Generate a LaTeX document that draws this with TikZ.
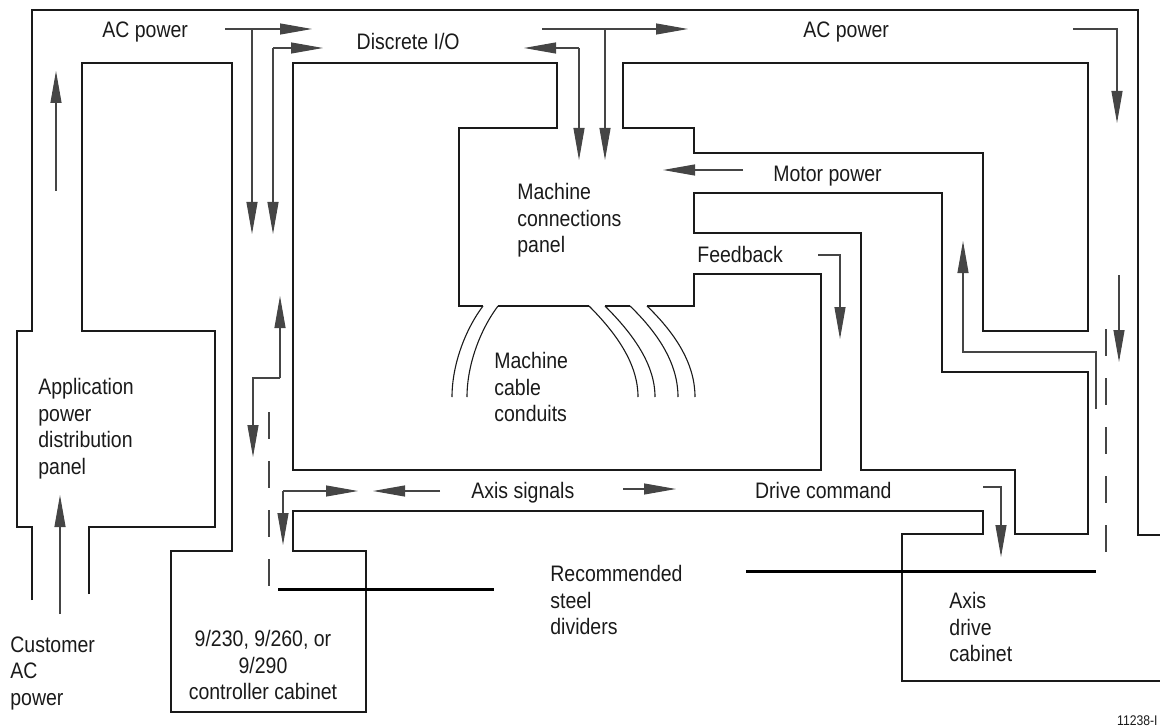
\documentclass[tikz,border=0pt]{standalone}
\usepackage{fontspec}
\setmainfont[FakeStretch=0.87]{Liberation Sans}
\usetikzlibrary{arrows.meta}
\definecolor{ink}{HTML}{1A1A1A}
\definecolor{rule}{HTML}{454545}

\begin{document}
\begin{tikzpicture}[x=0.5pt,y=-0.5pt,
    wall/.style={draw=ink,line width=0.55pt},
    arr/.style={-{Triangle[length=16pt,width=5.5pt]},line width=0.55pt,draw=rule},
    divider/.style={line width=1.5pt,draw=black},
    gapline/.style={draw=rule,line width=0.55pt,dash pattern=on 13.5pt off 11pt},
    lbl/.style={inner sep=0pt,text=ink,font=\fontsize{11.2}{13.25}\selectfont,align=left}]
    \useasboundingbox (0,0) rectangle (1160,727);
    % cabinet walls
    \draw[wall] (32,600) -- (32,527) -- (17,527) -- (17,331) -- (32,331) -- (32,10) -- (1138,10) -- (1138,535) -- (1160,535);
    \draw[wall] (89,594) -- (89,527) -- (215,527) -- (215,331) -- (82,331) -- (82,63) -- (232,63) -- (232,551) -- (171,551) -- (171,712) -- (366,712) -- (366,551) -- (293,551) -- (293,511) -- (983,511) -- (983,534) -- (902,534) -- (902,681) -- (1160,681);
    \draw[wall] (483,306) -- (459,306) -- (459,128) -- (557,128) -- (557,63) -- (293,63) -- (293,470) -- (821,470) -- (821,274) -- (694,274) -- (694,306) -- (647,306);
    \draw[wall] (498,306) -- (589,306);
    \draw[wall] (605,306) -- (630,306);
    \draw[wall] (623,63) -- (1088,63) -- (1088,331) -- (983,331) -- (983,153) -- (694,153) -- (694,128) -- (623,128) -- cycle;
    \draw[wall] (694,193) -- (942,193) -- (942,372) -- (1088,372) -- (1088,534) -- (1015,534) -- (1015,470) -- (861,470) -- (861,233) -- (694,233) -- cycle;
    % conduits
    \draw[wall] (483,306) .. controls (465,330) and (452,365) .. (452,397);
    \draw[wall] (498,306) .. controls (480,330) and (467,365) .. (467,397);
    \draw[wall] (589,306) .. controls (618,335) and (638,365) .. (638,397);
    \draw[wall] (605,306) .. controls (634,335) and (655,365) .. (655,397);
    \draw[wall] (630,306) .. controls (660,335) and (678,365) .. (678,397);
    \draw[wall] (647,306) .. controls (677,335) and (695,365) .. (695,397);
    % dividers
    \draw[divider] (278,589) -- (494,589);
    \draw[divider] (746,571) -- (1096,571);
    \draw[gapline] (269,412) -- (269,587);
    \draw[gapline] (1106,329) -- (1106,555);
    % arrows
    \draw[arr] (225,29) -- (312,29);
    \draw[arr] (252,29) -- (252,234);
    \draw[arr] (273,48) -- (323,48);
    \draw[arr] (273,48) -- (273,234);
    \draw[arr] (56,191) -- (56,71);
    \draw[arr] (60,614) -- (60,495);
    \draw[arr] (579,48) -- (524,48);
    \draw[arr] (579,48) -- (579,160);
    \draw[arr] (542,29) -- (688,29);
    \draw[arr] (605,29) -- (605,160);
    \draw[arr] (1073,29) -- (1117,29) -- (1117,123);
    \draw[arr] (743,170) -- (663,170);
    \draw[arr] (818,255) -- (840,255) -- (840,339);
    \draw[arr] (1096,409) -- (1096,352) -- (963,352) -- (963,241);
    \draw[arr] (1119,275) -- (1119,362);
    \draw[arr] (280,378) -- (280,296);
    \draw[arr] (280,378) -- (253,378) -- (253,457);
    \draw[arr] (283,491) -- (358,491);
    \draw[arr] (283,491) -- (283,545);
    \draw[arr] (440,491) -- (373,491);
    \draw[arr] (623,489) -- (676,489);
    \draw[arr] (983,487) -- (1001,487) -- (1001,557);
    % labels
    \node[lbl,anchor=base west] (acleft) at (102,38) {AC power};
    \node[lbl,anchor=base east] (discrete) at (460,50) {Discrete I/O};
    \node[lbl,anchor=base west] (acright) at (803,38) {AC power};
    \node[lbl,anchor=base west] (motor) at (773,182) {Motor power};
    \node[lbl,anchor=base west] (feedback) at (697,263) {Feedback};
    \node[lbl,anchor=base west] (axissig) at (471,498) {Axis signals};
    \node[lbl,anchor=base east] (drivecmd) at (892,498) {Drive command};
    \node[lbl,anchor=north west] (mcpanel) at (517,183) {Machine\\connections\\panel};
    \node[lbl,anchor=north west] (conduits) at (494,352) {Machine\\cable\\conduits};
    \node[lbl,anchor=north west] (apppanel) at (38,378) {Application\\power\\distribution\\panel};
    \node[lbl,anchor=north west] (customer) at (10,636) {Customer\\AC\\power};
    \node[lbl,anchor=north,align=center] (ctrlcab) at (263,630) {9/230, 9/260, or\\9/290\\controller cabinet};
    \node[lbl,anchor=north west] (steel) at (550,565) {Recommended\\steel\\dividers};
    \node[lbl,anchor=north west] (drivecab) at (949,592) {Axis\\drive\\cabinet};
    \node[lbl,anchor=base east,font=\fontsize{7}{8}\selectfont] (fignum) at (1158,725) {11238-I};
\end{tikzpicture}
\end{document}
